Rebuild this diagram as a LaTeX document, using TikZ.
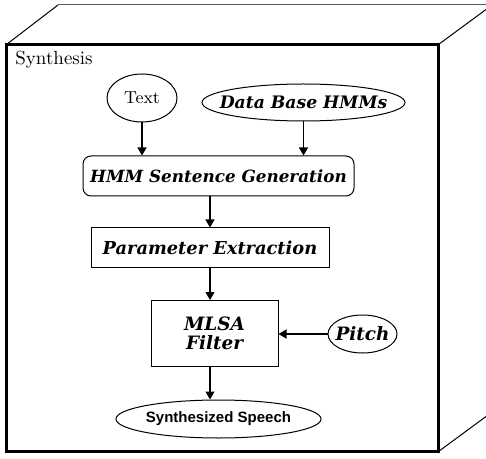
\documentclass[tikz,border=0pt]{standalone}
\usepackage{fontspec}
\newfontfamily\boldfont{DejaVu Serif}
\newfontfamily\arialfont{Liberation Sans}
\usetikzlibrary{shapes.geometric,arrows.meta}
\tikzset{
  bitext/.style={font=\boldfont\bfseries\itshape\fontsize{#1}{9.5}\selectfont},
  bitext/.default=8.6,
  oval/.style={draw,ellipse,inner sep=0pt,line width=0.5pt},
  stagebox/.style={draw,rectangle,inner sep=0pt,line width=0.5pt},
  flow/.style={line width=0.6pt,-{Triangle[width=4.5pt,length=4pt]}}
}
\begin{document}
\begin{tikzpicture}[x=0.5pt,y=-0.5pt]
  \useasboundingbox (0,0) rectangle (486,459);
  % box in perspective
  \draw[line width=0.5pt] (6.5,44.5) -- (58,5);
  \draw[line width=0.5pt,gray!70!black] (58,5) -- (486,5);
  \draw[line width=0.5pt] (438.5,44.5) -- (486,9.5);
  \draw[line width=0.5pt] (438.5,451.5) -- (486,416.5);
  \draw[line width=1.5pt,fill=white] (6.5,44.5) rectangle (438.5,451.5);
  \node[anchor=base west,font=\rmfamily\fontsize{9.5}{11}\selectfont,inner sep=0pt] (title) at (15,65) {Synthesis};
  % inputs
  \node[oval,minimum width=35pt,minimum height=24pt,font=\rmfamily\fontsize{8.7}{10}\selectfont] (text) at (142,98) {Text};
  \node[oval,inner xsep=-6.5pt,minimum width=101.5pt,minimum height=18.5pt,bitext=8.6] (dbase) at (303.5,102.5) {Data Base HMMs};
  % stages
  \node[stagebox,rounded corners=4pt,minimum width=135.5pt,minimum height=20pt,bitext=8.4] (hmm) at (218.5,176) {HMM Sentence Generation};
  \node[stagebox,minimum width=119pt,minimum height=20pt,bitext=8.9] (param) at (210,248) {Parameter Extraction};
  \node[stagebox,minimum width=63.5pt,minimum height=33pt,align=center,bitext=9.2] (mlsa) at (214.5,333.5) {MLSA\\Filter};
  \node[oval,inner xsep=-1.6pt,minimum width=34.5pt,minimum height=19pt,bitext=9.2] (pitch) at (362.5,334) {Pitch};
  \node[oval,minimum width=102.5pt,minimum height=19pt,font=\arialfont\bfseries\fontsize{7.5}{9}\selectfont] (speech) at (218.5,419) {Synthesized Speech};
  % arrows
  \draw[flow] (text) -- (text |- hmm.north);
  \draw[flow] (dbase) -- (dbase |- hmm.north);
  \draw[flow] (param.north |- hmm.south) -- (param.north);
  \draw[flow] (param.south) -- (param.south |- mlsa.north);
  \draw[flow] (pitch.west) -- (pitch.west -| mlsa.east);
  \draw[flow] (mlsa.south -| param.south) -- (speech.north -| param.south);
\end{tikzpicture}
\end{document}
